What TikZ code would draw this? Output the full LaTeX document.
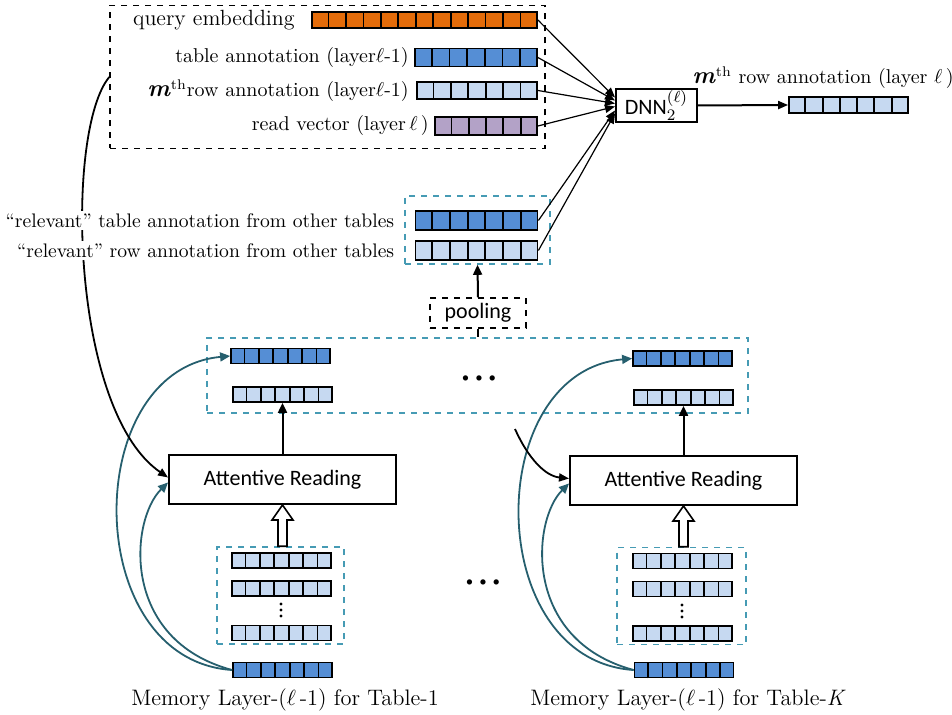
\documentclass[tikz,border=0pt]{standalone}
\usepackage{fontspec}
\newfontfamily\carl{Carlito}
\usetikzlibrary{arrows.meta,positioning,calc}

\definecolor{queryc}{RGB}{228,108,10}
\definecolor{tablec}{RGB}{85,142,213}
\definecolor{rowc}{RGB}{198,217,241}
\definecolor{readc}{RGB}{179,162,199}
\definecolor{tealc}{RGB}{38,95,110}
\definecolor{dashc}{RGB}{70,155,180}

\tikzset{
  vbar/.style={draw=black, line width=0.9pt, inner sep=0pt},
  tbox/.style={draw=dashc, dashed, line width=0.8pt, inner sep=0pt},
  kbox/.style={draw=black, dashed, line width=0.7pt, inner sep=0pt},
  proc/.style={draw=black, line width=1pt, inner sep=0pt, font=\carl\fontsize{11}{13}\selectfont},
  lbl/.style={inner sep=1pt, font=\fontsize{10}{12}\selectfont},
  memcaption/.style={inner sep=1pt, font=\fontsize{11.2}{13}\selectfont},
  feed/.style={-{Triangle[length=5pt,width=4pt]}, line width=0.6pt},
  up/.style={-{Triangle[length=5pt,width=4.5pt]}, line width=1pt},
  tealarr/.style={-{Triangle[length=5pt,width=4.5pt]}, draw=tealc, line width=0.9pt},
  hollow/.style={draw=black, line width=0.8pt, fill=white}
}

% cell dividers of a vector node: name, number of cells
\newcommand{\cells}[2]{%
  \pgfmathtruncatemacro\lastk{#2-1}%
  \foreach \k in {1,...,\lastk}
    \draw[line width=0.9pt] ($(#1.south west)!\k/#2!(#1.south east)$) -- ($(#1.north west)!\k/#2!(#1.north east)$);
}

\begin{document}
\begin{tikzpicture}[x=0.5pt, y=-0.5pt]
\useasboundingbox (0,0) rectangle (952,715);

% inputs of DNN
\node[kbox, minimum width=217.5pt, minimum height=71.5pt] (inbox) at (327.5,77) {};
\node[vbar, fill=queryc, minimum width=112.5pt, minimum height=8pt] (qe) at (424.5,20) {};
\cells{qe}{13}
\node[vbar, fill=tablec, minimum width=61pt, minimum height=9pt] (ta) at (476,57.5) {};
\cells{ta}{7}
\node[vbar, fill=rowc, minimum width=60pt, minimum height=8.5pt] (ra) at (477,90.5) {};
\cells{ra}{7}
\node[vbar, fill=readc, minimum width=51pt, minimum height=9pt] (rv) at (486,126) {};
\cells{rv}{6}

\node[lbl, left=7pt of qe, font=\fontsize{11}{13}\selectfont] (lqe) {query embedding};
\node[lbl, left=1.5pt of ta] (lta) {table annotation (layer$\ell$-1)};
\node[lbl, left=2.5pt of ra] (lra) {\textbf{\textit{\large m}}\textsuperscript{th}row annotation (layer$\ell$-1)};
\node[lbl, left=1.5pt of rv] (lrv) {read vector (layer$\,\ell\,$)};

% DNN and its output
\node[proc, minimum width=40.5pt, minimum height=16.5pt] (dnn) at (656.5,105.5) {DNN$_2^{(\ell)}$};
\node[vbar, fill=rowc, minimum width=59.5pt, minimum height=8pt] (out) at (848.5,105) {};
\cells{out}{7}
\node[lbl] (lout) at (823,78) {\textbf{\textit{\large m}}\textsuperscript{th} row annotation (layer $\ell$\,)};
\draw[feed, line width=1pt] (dnn.east) -- (out.west);

% relevant annotations
\node[tbox, minimum width=72.5pt, minimum height=34pt] (relbox) at (477.5,230) {};
\node[vbar, fill=tablec, minimum width=61pt, minimum height=9.5pt] (rt) at (476.5,220.5) {};
\cells{rt}{7}
\node[vbar, fill=rowc, minimum width=61pt, minimum height=9.5pt] (rr) at (476.5,250.5) {};
\cells{rr}{7}

\draw[feed] (qe.east) -- ($(dnn.west)+(0,4pt)$);
\draw[feed] (ta.east) -- ($(dnn.west)+(0,2.5pt)$);
\draw[feed] (ra.east) -- ($(dnn.west)+(0,1pt)$);
\draw[feed] (rv.east) -- ($(dnn.west)+(0,-0.5pt)$);
\draw[feed] (rt.east) -- ($(dnn.west)+(0,-2.5pt)$);
\draw[feed] (rr.east) -- ($(dnn.west)+(0,-4pt)$);

% pooling
\node[kbox, minimum width=48pt, minimum height=15pt, font=\carl\fontsize{11}{13}\selectfont] (pool) at (478,313) {pooling};
\draw[up] (pool.north) -- (relbox.south);

% read outputs of all tables
\node[tbox, minimum width=270.5pt, minimum height=37.5pt] (allbox) at (477.5,375.5) {};
\draw[line width=1pt] (pool.south) -- (pool.south |- allbox.north);
\node[vbar, fill=tablec, minimum width=49.5pt, minimum height=7.5pt] (t1) at (280.5,356) {};
\cells{t1}{7}
\node[vbar, fill=rowc, minimum width=49.5pt, minimum height=7.5pt] (r1) at (282.5,394.5) {};
\cells{r1}{7}
\node[vbar, fill=tablec, minimum width=49.5pt, minimum height=7.5pt] (tK) at (682.5,358.5) {};
\cells{tK}{7}
\node[vbar, fill=rowc, minimum width=49.5pt, minimum height=7.5pt] (rK) at (683.5,397.5) {};
\cells{rK}{7}
\node (dotsA) at (479,379) {\fontsize{9}{9}\selectfont\textbullet\hspace{-0.5pt}\textbullet\hspace{-0.5pt}\textbullet};

% attentive reading
\node[proc, minimum width=113.5pt, minimum height=24.5pt] (ar1) at (282.5,479.5) {Attentive Reading};
\node[proc, minimum width=113.5pt, minimum height=24.5pt] (arK) at (683.5,480.5) {Attentive Reading};
\draw[up] (ar1.north) -- (r1.south);
\draw[up] (arK.north) -- (rK.south);

% memory of table 1
\node[tbox, minimum width=63.5pt, minimum height=48.5pt] (mem1) at (280.5,595.5) {};
\node[vbar, fill=rowc, minimum width=49.5pt, minimum height=7.5pt] (m1a) at (281.5,560.5) {};
\cells{m1a}{7}
\node[vbar, fill=rowc, minimum width=49.5pt, minimum height=7.5pt] (m1b) at (281.5,588.5) {};
\cells{m1b}{7}
\node[vbar, fill=rowc, minimum width=49.5pt, minimum height=7.5pt] (m1c) at (281.5,633) {};
\cells{m1c}{7}
\coordinate (vd1) at (281,610);
\foreach \d in {-6,0,6} \fill ($(vd1)+(0,\d)$) circle (0.8pt);
\node[vbar, fill=tablec, minimum width=49.5pt, minimum height=7.5pt] (b1) at (282.5,670) {};
\cells{b1}{7}
\node[memcaption] (cap1) at (285,700) {Memory Layer-($\ell$\,-1) for Table-1};

% memory of table K
\node[tbox, minimum width=64.5pt, minimum height=48.5pt] (memK) at (681.5,596) {};
\node[vbar, fill=rowc, minimum width=49.5pt, minimum height=7.5pt] (mKa) at (682.5,561) {};
\cells{mKa}{7}
\node[vbar, fill=rowc, minimum width=49.5pt, minimum height=7.5pt] (mKb) at (682.5,589) {};
\cells{mKb}{7}
\node[vbar, fill=rowc, minimum width=49.5pt, minimum height=7.5pt] (mKc) at (682.5,633.5) {};
\cells{mKc}{7}
\coordinate (vdK) at (682,611);
\foreach \d in {-6,0,6} \fill ($(vdK)+(0,\d)$) circle (0.8pt);
\node[vbar, fill=tablec, minimum width=49.5pt, minimum height=7.5pt] (bK) at (684,670) {};
\cells{bK}{7}
\node[memcaption] (capK) at (688,700) {Memory Layer-($\ell$\,-1) for Table-\textit{K}};

\node (dotsB) at (483,583) {\fontsize{9}{9}\selectfont\textbullet\hspace{-0.5pt}\textbullet\hspace{-0.5pt}\textbullet};

% hollow arrows
\draw[hollow] (ar1.south) -- ++(5.25pt,-7.5pt) -- ++(-3pt,0pt) -- ($(ar1.south |- mem1.north)+(2.25pt,0pt)$)
  -- ($(ar1.south |- mem1.north)+(-2.25pt,0pt)$) -- ($(ar1.south)+(-2.25pt,-7.5pt)$) -- ++(-3pt,0pt) -- cycle;
\draw[hollow] (arK.south) -- ++(5.25pt,-7.5pt) -- ++(-3pt,0pt) -- ($(arK.south |- memK.north)+(2.25pt,0pt)$)
  -- ($(arK.south |- memK.north)+(-2.25pt,0pt)$) -- ($(arK.south)+(-2.25pt,-7.5pt)$) -- ++(-3pt,0pt) -- cycle;

% teal curves
\draw[tealarr] (b1.west) .. controls (80,660) and (80,370) .. (t1.west);
\draw[tealarr] (b1.west) .. controls (120,640) and (130,520) .. ($(ar1.west)+(0,-1.5pt)$);
\draw[tealarr] (bK.west) .. controls (482,660) and (482,372) .. (tK.west);
\draw[tealarr] (bK.west) .. controls (522,640) and (532,520) .. ($(arK.west)+(0,-1.5pt)$);

% black curves into attentive reading
\draw[feed, line width=0.9pt] (inbox.west) .. controls (65,130) and (70,410) .. ($(ar1.west)+(0,1pt)$);
\coordinate (fromK) at (515,429);
\draw[feed, line width=0.9pt] (fromK) .. controls (528,458) and (545,476) .. ($(arK.west)+(0,1pt)$);

\node[lbl, fill=white, left=9pt of rt, font=\fontsize{9.8}{12}\selectfont] (lrt) {“relevant” table annotation from other tables};
\node[lbl, fill=white, left=9pt of rr, font=\fontsize{9.8}{12}\selectfont] (lrr) {“relevant” row annotation from other tables};
\end{tikzpicture}
\end{document}
